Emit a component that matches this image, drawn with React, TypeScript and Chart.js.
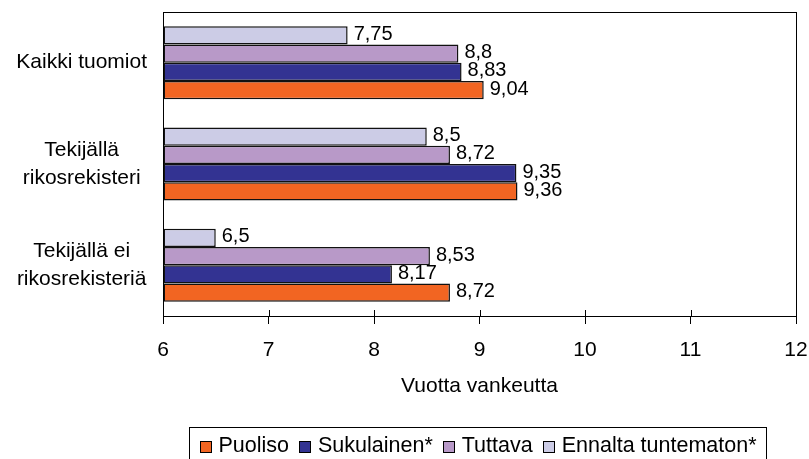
import React, { useEffect, useRef } from 'react';
import { Chart, registerables } from 'chart.js';

Chart.register(...registerables);

const categories: (string | string[])[] = [
  'Kaikki tuomiot',
  ['Tekijällä', 'rikosrekisteri'],
  ['Tekijällä ei', 'rikosrekisteriä'],
];
const seriesNames = ['Ennalta tuntematon*', 'Tuttava', 'Sukulainen*', 'Puoliso'];
const ennaltaTuntematon = [7.75, 8.5, 6.5];
const tuttava = [8.8, 8.72, 8.53];
const sukulainen = [8.83, 9.35, 8.17];
const puoliso = [9.04, 9.36, 8.72];
const seriesColors = ['#CCCCE6', '#B899C8', '#333392', '#F26522'];
const xMin = 6;
const xMax = 12;
const xStep = 1;
const axisTitle = 'Vuotta vankeutta';

const FONT = '"Liberation Sans", Arial, sans-serif';

const framePlugin = {
  id: 'frame',
  afterDraw(chart: any) {
    const { ctx, chartArea: a } = chart;
    const xs = chart.scales.x;
    ctx.save();
    // plot frame
    ctx.strokeStyle = '#000';
    ctx.lineWidth = 1;
    ctx.strokeRect(Math.round(a.left) + 0.5, Math.round(a.top) + 0.5, Math.round(a.right - a.left), Math.round(a.bottom - a.top));
    // inner tick marks
    for (let v = xMin + xStep; v < xMax; v += xStep) {
      const px = Math.round(xs.getPixelForValue(v)) + 0.5;
      ctx.beginPath();
      ctx.moveTo(px, a.bottom - 6);
      ctx.lineTo(px, a.bottom);
      ctx.stroke();
    }
    // value labels
    ctx.font = `20px ${FONT}`;
    ctx.fillStyle = '#000';
    ctx.textBaseline = 'middle';
    ctx.textAlign = 'left';
    chart.data.datasets.forEach((ds: any, i: number) => {
      const meta = chart.getDatasetMeta(i);
      meta.data.forEach((el: any, j: number) => {
        const v = ds.data[j];
        ctx.fillText(String(v).replace('.', ','), el.x + 6, el.y - 1);
      });
    });
    // legend
    const items = chart.data.datasets.slice().reverse();
    ctx.font = `21.5px ${FONT}`;
    const box = 12;
    const gap = 7;
    const spacing = 10;
    const widths = items.map((d: any) => ctx.measureText(d.label).width);
    const total = widths.reduce((s: number, w: number) => s + box + gap + w, 0) + spacing * (items.length - 1);
    const padX = 10;
    const center = (a.left + a.right) / 2 - 2;
    const boxLeft = Math.round(center - total / 2 - padX) + 0.5;
    const boxW = Math.round(total + 2 * padX);
    const boxTop = 427.5;
    ctx.strokeStyle = '#000';
    ctx.strokeRect(boxLeft, boxTop, boxW, 60);
    let x = boxLeft + padX;
    const cy = 446;
    items.forEach((d: any, k: number) => {
      ctx.fillStyle = d.backgroundColor;
      ctx.fillRect(Math.round(x), cy - 5, box, box);
      ctx.strokeStyle = '#000';
      ctx.strokeRect(Math.round(x) + 0.5, cy - 5 + 0.5, box - 1, box - 1);
      ctx.fillStyle = '#000';
      ctx.textBaseline = 'middle';
      ctx.fillText(d.label, x + box + gap, cy);
      x += box + gap + widths[k] + spacing;
    });
    ctx.restore();
  },
};

export default function App() {
  const ref = useRef<HTMLCanvasElement>(null);
  useEffect(() => {
    if (!ref.current) return;
    const values = [ennaltaTuntematon, tuttava, sukulainen, puoliso];
    const chart = new Chart(ref.current, {
      type: 'bar',
      data: {
        labels: categories as any,
        datasets: values.map((data, i) => ({
          label: seriesNames[i],
          data,
          backgroundColor: seriesColors[i],
          borderColor: '#111',
          borderWidth: 1.5,
          borderSkipped: false,
          base: xMin,
          categoryPercentage: 0.72,
          barPercentage: 1,
        })),
      },
      options: {
        indexAxis: 'y',
        responsive: false,
        animation: false,
        events: [],
        layout: { padding: { top: 12, right: 13, bottom: 59, left: 0 } },
        plugins: { legend: { display: false }, tooltip: { enabled: false } },
        scales: {
          x: {
            type: 'linear',
            min: xMin,
            max: xMax,
            ticks: { stepSize: xStep, color: '#000', padding: 14, font: { family: FONT, size: 21 } },
            grid: { drawOnChartArea: false, drawTicks: true, tickLength: 8, color: '#000' },
            border: { display: true, color: '#000', width: 1 },
            title: {
              display: true,
              text: axisTitle,
              color: '#000',
              font: { family: FONT, size: 21 },
              padding: { top: 0, bottom: 1 },
            },
            afterFit: (s: any) => {
              s.height = 84;
              s.paddingLeft = 0;
              s.paddingRight = 0;
            },
          },
          y: {
            ticks: {
              crossAlign: 'center',
              padding: 16,
              color: '#000',
              font: { family: FONT, size: 21, lineHeight: 1.35 },
            },
            grid: { display: false, drawTicks: false },
            border: { display: true, color: '#000', width: 1 },
            afterFit: (s: any) => {
              s.width = 163;
              s.paddingTop = 0;
              s.paddingBottom = 0;
            },
          },
        },
      } as any,
      plugins: [framePlugin],
    });
    return () => chart.destroy();
  }, []);
  return (
    <div style={{ position: 'fixed', left: 0, top: 0, width: 809, height: 459, background: '#fff' }}>
      <canvas ref={ref} width={809} height={459} style={{ width: 809, height: 459, display: 'block' }} />
    </div>
  );
}
